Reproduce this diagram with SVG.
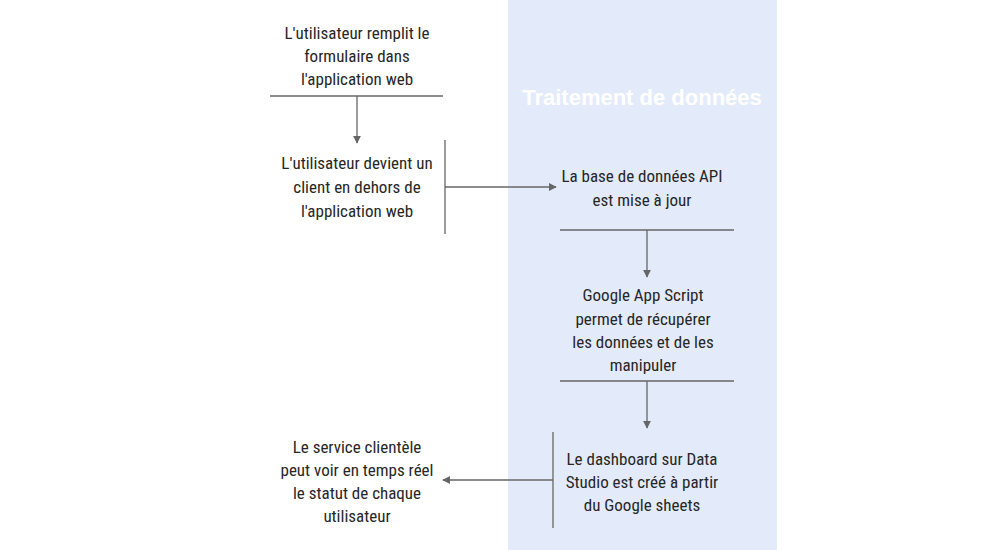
<svg xmlns="http://www.w3.org/2000/svg" width="1000" height="550" viewBox="0 0 1000 550">
<defs>
<style>
.t{font-family:"Liberation Sans Narrow","Roboto Condensed","DejaVu Sans Condensed","Liberation Sans",sans-serif;font-stretch:condensed;font-weight:400;font-size:17px;fill:#262626;text-anchor:middle}
.ln{stroke:#666;stroke-width:1.3;fill:none}
.title{font-family:"Liberation Sans",Arial,sans-serif;font-weight:bold;font-size:22px;fill:#ffffff;text-anchor:middle}
</style>
<marker id="ah" viewBox="0 0 10 10" refX="9" refY="5" markerWidth="8" markerHeight="8" markerUnits="userSpaceOnUse" orient="auto">
<path d="M0,0 L10,5 L0,10 z" fill="#666"/>
</marker>
</defs>
<rect x="0" y="0" width="1000" height="550" fill="#ffffff"/>
<g id="panel">
<rect x="508" y="0" width="269" height="550" fill="#e3ebfa"/>
<text class="title" x="642" y="105">Traitement de données</text>
</g>
<g id="n1">
<text class="t" x="357" y="39">L'utilisateur remplit le</text>
<text class="t" x="357" y="62">formulaire dans</text>
<text class="t" x="357" y="85">l'application web</text>
<line class="ln" x1="270" y1="96" x2="443" y2="96"/>
</g>
<g id="n2">
<text class="t" x="357" y="169">L'utilisateur devient un</text>
<text class="t" x="357" y="193">client en dehors de</text>
<text class="t" x="357" y="217">l'application web</text>
<line class="ln" x1="445" y1="140" x2="445" y2="234"/>
</g>
<g id="n3">
<text class="t" x="642" y="182">La base de données API</text>
<text class="t" x="642" y="206">est mise à jour</text>
<line class="ln" x1="560" y1="230" x2="734" y2="230"/>
</g>
<g id="n4">
<text class="t" x="643" y="301">Google App Script</text>
<text class="t" x="643" y="325">permet de récupérer</text>
<text class="t" x="643" y="348">les données et de les</text>
<text class="t" x="643" y="371">manipuler</text>
<line class="ln" x1="560" y1="381" x2="734" y2="381"/>
</g>
<g id="n5">
<text class="t" x="642" y="465">Le dashboard sur Data</text>
<text class="t" x="642" y="488">Studio est créé à partir</text>
<text class="t" x="642" y="511">du Google sheets</text>
<line class="ln" x1="553" y1="432" x2="553" y2="528"/>
</g>
<g id="n6">
<text class="t" x="357" y="453">Le service clientèle</text>
<text class="t" x="357" y="476">peut voir en temps réel</text>
<text class="t" x="357" y="499">le statut de chaque</text>
<text class="t" x="357" y="522">utilisateur</text>
</g>
<g id="connectors">
<line class="ln" x1="357" y1="96" x2="357" y2="143" marker-end="url(#ah)"/>
<line class="ln" x1="445" y1="187" x2="556" y2="187" marker-end="url(#ah)"/>
<line class="ln" x1="647" y1="230" x2="647" y2="277" marker-end="url(#ah)"/>
<line class="ln" x1="647" y1="381" x2="647" y2="428" marker-end="url(#ah)"/>
<line class="ln" x1="553" y1="480" x2="443" y2="480" marker-end="url(#ah)"/>
</g>
</svg>
